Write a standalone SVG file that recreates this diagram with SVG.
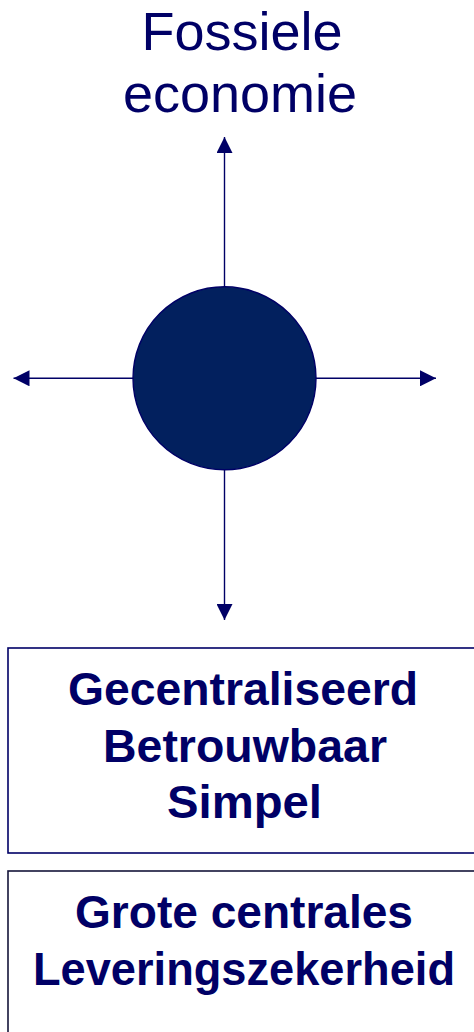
<svg xmlns="http://www.w3.org/2000/svg" width="474" height="1032" viewBox="0 0 474 1032">
<style>
.t{font-family:"Liberation Sans",Arial,sans-serif;fill:#000066;text-anchor:middle}
.title{font-size:54px}
.b{font-size:46px;font-weight:bold}
.ln{stroke:#000066;stroke-width:1.4;fill:none}
.box{fill:#fff;stroke-width:1.6}
</style>
<defs>
<marker id="ah" viewBox="0 0 16 16" refX="16" refY="8" markerWidth="16" markerHeight="16" markerUnits="userSpaceOnUse" orient="auto">
<path d="M0,0 L16,8 L0,16 Z" fill="#000066"/>
</marker>
</defs>
<rect width="474" height="1032" fill="#fff"/>
<g id="title">
<text class="t title" x="242" y="49.5">Fossiele</text>
<text class="t title" x="240" y="111.5">economie</text>
</g>
<g id="connectors">
<line class="ln" x1="224.5" y1="287" x2="224.5" y2="137" marker-end="url(#ah)"/>
<line class="ln" x1="224.5" y1="470" x2="224.5" y2="620" marker-end="url(#ah)"/>
<line class="ln" x1="133" y1="378.3" x2="13.5" y2="378.3" marker-end="url(#ah)"/>
<line class="ln" x1="316" y1="378.3" x2="436" y2="378.3" marker-end="url(#ah)"/>
</g>
<g id="center">
<circle cx="224.5" cy="378.3" r="91.5" fill="#02205E" stroke="#000066" stroke-width="1.4"/>
</g>
<g id="box1">
<rect class="box" x="8" y="648" width="480" height="205" stroke="#000066"/>
<text class="t b" x="243" y="705" textLength="350" lengthAdjust="spacingAndGlyphs">Gecentraliseerd</text>
<text class="t b" x="245" y="761.5" textLength="284" lengthAdjust="spacingAndGlyphs">Betrouwbaar</text>
<text class="t b" x="244.5" y="818" textLength="155" lengthAdjust="spacingAndGlyphs">Simpel</text>
</g>
<g id="box2">
<rect class="box" x="8" y="871" width="480" height="200" stroke="#14143a"/>
<text class="t b" x="244" y="928" textLength="338" lengthAdjust="spacingAndGlyphs">Grote centrales</text>
<text class="t b" x="244" y="985" textLength="422" lengthAdjust="spacingAndGlyphs">Leveringszekerheid</text>
</g>
</svg>
